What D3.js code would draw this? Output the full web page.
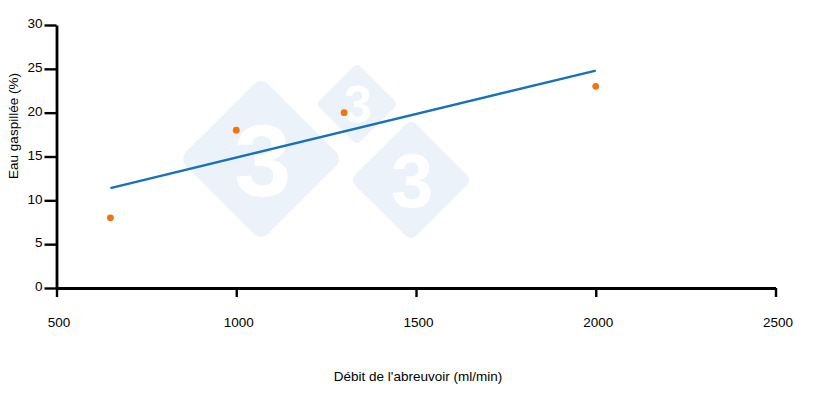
<!DOCTYPE html>
<html>
<head>
<meta charset="utf-8">
<script src="https://cdn.jsdelivr.net/npm/d3@7"></script>
<style>
  body { margin: 0; background: #fff; }
  text { font-family: "Liberation Sans", Arial, sans-serif; }
</style>
</head>
<body>
<svg id="chart"></svg>
<script>
// data
const flowRate = [650, 1000, 1300, 2000];      // ml/min
const wastedWater = [8, 18, 20, 23];           // %
const fitX = [650, 2000];                      // trend line ends
const fitY = [11.4, 24.8];
const xTicks = [500, 1000, 1500, 2000, 2500];
const yTicks = [0, 5, 10, 15, 20, 25, 30];

const width = 820, height = 407;
const svg = d3.select('#chart')
  .attr('width', width)
  .attr('height', height);

const xScale = d3.scaleLinear().domain([500, 2500]).range([56.5, 775.5]);
const yScale = d3.scaleLinear().domain([0, 30]).range([288, 25]);

// watermark logos
const marks = [
  {cx: 261, cy: 159, r: 82},
  {cx: 357, cy: 104, r: 41},
  {cx: 411, cy: 180, r: 61}
];
const wm = svg.append('g');
marks.forEach(m => {
  const s = m.r * Math.SQRT2;
  wm.append('rect')
    .attr('x', -s / 2).attr('y', -s / 2)
    .attr('width', s).attr('height', s)
    .attr('rx', m.r * 0.12)
    .attr('fill', '#ebf2f9')
    .attr('transform', `translate(${m.cx},${m.cy}) rotate(45)`);
  wm.append('text')
    .attr('x', m.cx + m.r * 0.02).attr('y', m.cy + m.r * 0.45)
    .attr('text-anchor', 'middle')
    .attr('font-weight', 'bold')
    .attr('font-size', m.r * 1.25)
    .attr('fill', '#fff')
    .text('3');
});

// axes
const xAxis = d3.axisBottom(xScale).tickValues(xTicks).tickFormat(d3.format('d'))
  .tickSize(9).tickPadding(20).tickSizeOuter(0);
const yAxis = d3.axisLeft(yScale).tickValues(yTicks).tickFormat(d3.format('d'))
  .tickSize(12).tickPadding(2).tickSizeOuter(0);

const gx = svg.append('g')
  .attr('transform', `translate(0, ${yScale(0)})`)
  .call(xAxis);
const gy = svg.append('g')
  .attr('transform', `translate(${xScale(500)}, 0)`)
  .call(yAxis);

[gx, gy].forEach(g => {
  g.select('.domain').attr('stroke', '#000').attr('stroke-width', 2.8);
  g.selectAll('.tick line').attr('stroke', '#000').attr('stroke-width', 2.4);
  g.selectAll('.tick text')
    .attr('fill', '#000')
    .attr('font-size', 13.5)
    .attr('font-family', '"Liberation Sans", Arial, sans-serif');
});
gx.selectAll('.tick text').attr('dx', 2);
gy.selectAll('.tick text').attr('dy', '0.2em');

// axis labels
svg.append('text')
  .attr('x', 418).attr('y', 381)
  .attr('text-anchor', 'middle')
  .attr('font-size', 13.5)
  .text("Débit de l'abreuvoir (ml/min)");
svg.append('text')
  .attr('transform', 'translate(18, 126) rotate(-90)')
  .attr('text-anchor', 'middle')
  .attr('font-size', 13.5)
  .text('Eau gaspillée (%)');

// trend line
svg.append('path')
  .datum(fitX.map((x, i) => [x, fitY[i]]))
  .attr('fill', 'none')
  .attr('stroke', '#1673bb')
  .attr('stroke-width', 2.4)
  .attr('d', d3.line().x(d => xScale(d[0])).y(d => yScale(d[1])));

// points
svg.selectAll('circle.pt')
  .data(flowRate.map((x, i) => [x, wastedWater[i]]))
  .enter()
  .append('circle')
    .attr('class', 'pt')
    .attr('cx', d => xScale(d[0]))
    .attr('cy', d => yScale(d[1]))
    .attr('r', 3.4)
    .attr('fill', '#f07410');
</script>
</body>
</html>
